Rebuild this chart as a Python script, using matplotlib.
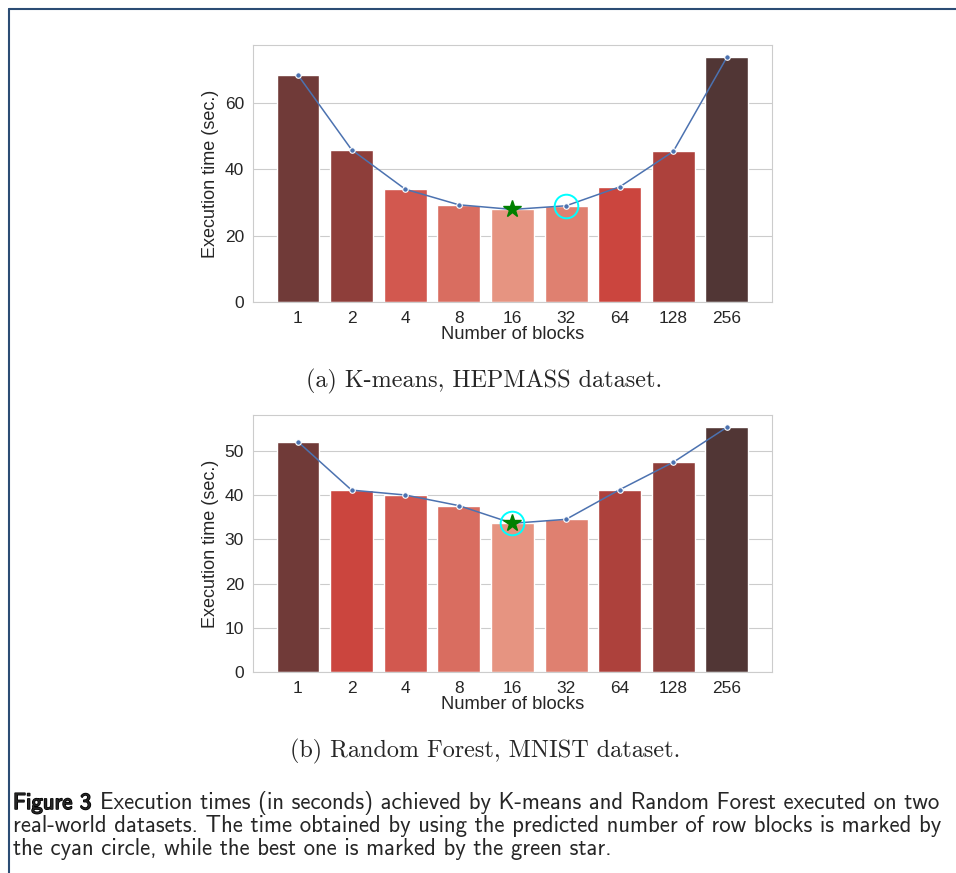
import numpy as np
import matplotlib
matplotlib.use("Agg")
import matplotlib.pyplot as plt
import matplotlib.patheffects as pe
from matplotlib.lines import Line2D
import seaborn as sns

blocks = ["1", "2", "4", "8", "16", "32", "64", "128", "256"]
kmeans_times = [68.4, 45.9, 34.0, 29.3, 27.9, 29.0, 34.7, 45.4, 73.8]
rf_times = [52.0, 41.1, 40.0, 37.6, 33.6, 34.5, 41.2, 47.4, 55.3]
kmeans_best, kmeans_pred = "16", "32"
rf_best, rf_pred = "16", "16"

sub_captions = ["(a) K-means, HEPMASS dataset.", "(b) Random Forest, MNIST dataset."]
fig_caption = [
    "Execution times (in seconds) achieved by K-means and Random Forest executed on two",
    "real-world datasets. The time obtained by using the predicted number of row blocks is marked by",
    "the cyan circle, while the best one is marked by the green star.",
]

sns.set_style("whitegrid")
plt.rcParams["font.family"] = ["Liberation Sans", "DejaVu Sans"]


def draw_panel(ax, times, best, pred):
    times = np.array(times)
    x = np.arange(len(blocks))
    # darker bar = slower run
    pal = sns.color_palette("Reds_d", len(times))
    rank = times.argsort().argsort()
    colors = np.array(pal)[rank]
    colors = [sns.desaturate(c, 0.75) for c in colors]
    ax.bar(x, times, width=0.8, color=colors, edgecolor="white", linewidth=1)
    ax.plot(x, times, color="#4c72b0", lw=1.1, marker="o", ms=4,
            mec="white", mew=0.8, zorder=3)
    b = blocks.index(best)
    p = blocks.index(pred)
    ax.plot(x[b], times[b], marker="*", color="green", ms=13, zorder=5)
    ax.plot(x[p], times[p], marker="o", mfc="none", mec="cyan", ms=17,
            mew=1.4, zorder=4)
    ax.set_xticks(x)
    ax.set_xticklabels(blocks)
    ax.tick_params(labelsize=12.5, colors="#262626", pad=3)
    ax.set_xlabel("Number of blocks", fontsize=13.2, color="#262626", labelpad=0)
    ax.set_ylabel("Execution time (sec.)", fontsize=13, color="#262626", labelpad=4)
    for s in ax.spines.values():
        s.set_color("#cccccc")
    ax.grid(axis="x", visible=False)


fig = plt.figure(figsize=(9.56, 8.73), dpi=100)
ax1 = fig.add_axes([0.2646, 0.6541, 0.5429, 0.2944])
ax2 = fig.add_axes([0.2646, 0.2302, 0.5429, 0.2944])
draw_panel(ax1, kmeans_times, kmeans_best, kmeans_pred)
draw_panel(ax2, rf_times, rf_best, rf_pred)
ax1.set_yticks([0, 20, 40, 60])
ax2.set_yticks([0, 10, 20, 30, 40, 50])

fig.text(484 / 956, 1 - 381 / 873, sub_captions[0], family="cmr10", fontsize=17.4,
         ha="center", va="center")
fig.text(485 / 956, 1 - 751 / 873, sub_captions[1], family="cmr10", fontsize=17.4,
         ha="center", va="center")

# figure caption
cap_y = [803, 826, 849]
t = fig.text(13 / 956, 1 - cap_y[0] / 873, "Figure 3", family="cmss10", fontsize=16.4,
             ha="left", va="center",
             path_effects=[pe.withStroke(linewidth=1.1, foreground="black")])
fig.canvas.draw()
bb = t.get_window_extent()
fig.text((bb.x1 + 9) / 956, 1 - cap_y[0] / 873, fig_caption[0], family="cmss10",
         fontsize=16.4, ha="left", va="center")
for line, y in zip(fig_caption[1:], cap_y[1:]):
    fig.text(13 / 956, 1 - y / 873, line, family="cmss10", fontsize=16.4,
             ha="left", va="center")

# page frame
fig.add_artist(Line2D([9 / 956, 1], [1 - 9 / 873] * 2, color="#2b4c74", lw=1.5))
fig.add_artist(Line2D([9 / 956] * 2, [0, 1 - 9 / 873], color="#2b4c74", lw=1.5))

fig.savefig("out.png", dpi=100)
